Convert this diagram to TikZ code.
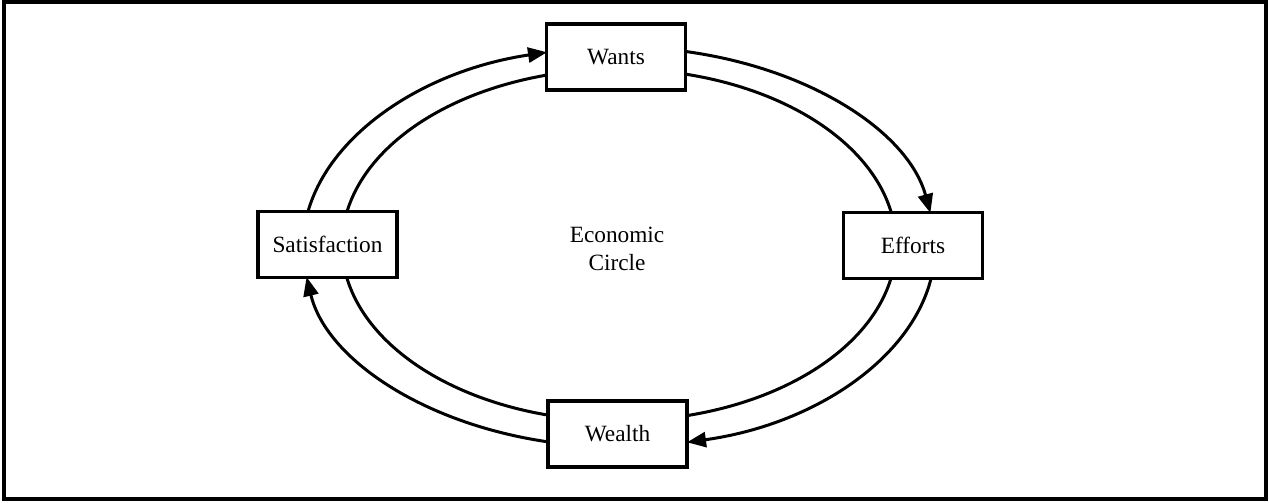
\documentclass[tikz,border=0pt]{standalone}
\usepackage{fontspec}
\setmainfont{Liberation Serif}
\usetikzlibrary{arrows.meta,calc}
\begin{document}
\begin{tikzpicture}[x=1pt,y=1pt,
  box/.style={draw, line width=3.2pt, fill=white, minimum width=139pt,
              minimum height=66pt, inner sep=0pt,
              font=\fontsize{23.3}{28}\selectfont},
  ring/.style={line width=3pt},
  flow/.style={ring, -{Triangle[length=19pt,width=15pt]}},
  lbl/.style={align=center, font=\fontsize{23.3}{28}\selectfont}]
\useasboundingbox (0,0) rectangle (1269,503);
% frame
\draw[line width=3.4pt] (4,4) rectangle (1266,501);
% centres of the two rings
\coordinate (oc) at (619,256);
\coordinate (ic) at (619,258);
% stages of the cycle
\node[box] (wants)  at (616,446)   {Wants};
\node[box] (effort) at (913,257.5) {Efforts};
\node[box] (wealth) at (617.5,69)  {Wealth};
\node[box] (satis)  at (327.5,258.5) {Satisfaction};
\node[lbl] (title)  at (617,254) {Economic\\Circle};
% outer ring: directed flow, clockwise
\draw[flow] ($(oc)+(169.9:316pt and 200pt)$)
  arc[start angle=169.9, end angle=103.17, x radius=316pt, y radius=200pt];
\draw[flow] ($(oc)+(77.94:316pt and 200pt)$)
  arc[start angle=77.94, end angle=9.79, x radius=316pt, y radius=200pt];
\draw[flow] ($(oc)+(-8.92:316pt and 200pt)$)
  arc[start angle=-8.92, end angle=-77.57, x radius=316pt, y radius=200pt];
\draw[flow] ($(oc)+(-102.98:316pt and 200pt)$)
  arc[start angle=-102.98, end angle=-171.37, x radius=316pt, y radius=200pt];
% inner ring: plain links
\draw[ring] ($(ic)+(169.19:277pt and 176pt)$)
  arc[start angle=169.19, end angle=105.07, x radius=277pt, y radius=176pt];
\draw[ring] ($(ic)+(76.21:277pt and 176pt)$)
  arc[start angle=76.21, end angle=10.47, x radius=277pt, y radius=176pt];
\draw[ring] ($(ic)+(-10.81:277pt and 176pt)$)
  arc[start angle=-10.81, end angle=-75.79, x radius=277pt, y radius=176pt];
\draw[ring] ($(ic)+(-104.85:277pt and 176pt)$)
  arc[start angle=-104.85, end angle=-169.53, x radius=277pt, y radius=176pt];
\end{tikzpicture}
\end{document}
